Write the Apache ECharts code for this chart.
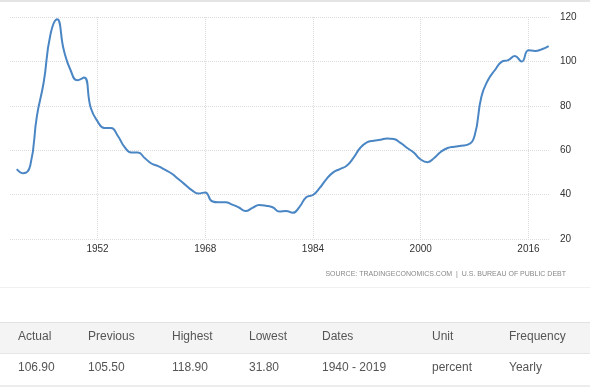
<!DOCTYPE html>
<html><head><meta charset="utf-8">
<script src="https://cdn.jsdelivr.net/npm/echarts@6/dist/echarts.min.js"></script>
<style>html,body{margin:0;padding:0;background:#fff}#c{width:590px;height:388px}</style>
</head><body><div id="c"></div>
<script>
const years = [1940,1941,1942,1943,1944,1945,1946,1947,1948,1949,1950,1951,1952,1953,1954,1955,1956,1957,1958,1959,1960,1961,1962,1963,1964,1965,1966,1967,1968,1969,1970,1971,1972,1973,1974,1975,1976,1977,1978,1979,1980,1981,1982,1983,1984,1985,1986,1987,1988,1989,1990,1991,1992,1993,1994,1995,1996,1997,1998,1999,2000,2001,2002,2003,2004,2005,2006,2007,2008,2009,2010,2011,2012,2013,2014,2015,2016,2017,2018,2019];
const debtToGdp = [51.5,49.6,53,75.5,90.5,112,119,105,96,91.5,92.7,79,73,70,70,66.5,61.5,59,59,56.5,54,52.8,51.2,49.5,47,44.5,42,40.5,41,37,36.5,36.5,35.5,34.2,32.6,34,35.3,35,34.3,32.4,32.6,31.8,34.5,38.8,39.8,43,47,50,51.5,53,56.5,61,63.5,64.3,64.7,65.3,65,63.3,61,58.8,55.8,54.6,56.5,59.3,61,61.6,62,62.5,66.5,84,91.6,96,99.8,100.6,102.4,99.9,105,104.7,105.5,106.9];
const xTicks = [1952,1968,1984,2000,2016];
const tableHeaders = ['Actual','Previous','Highest','Lowest','Dates','Unit','Frequency'];
const tableValues = ['106.90','105.50','118.90','31.80','1940 - 2019','percent','Yearly'];
const sourceText = 'SOURCE: TRADINGECONOMICS.COM  |  U.S. BUREAU OF PUBLIC DEBT';

const colX = [18,88,172,249,322,432,509];
const FF = 'Liberation Sans, Arial, sans-serif';
const graphics = [
  {type:'rect', shape:{x:0,y:0,width:590,height:2}, style:{fill:'#e4e4e4'}, silent:true},
  {type:'rect', shape:{x:0,y:287,width:590,height:1}, style:{fill:'#f0f0f0'}, silent:true},
  {type:'rect', shape:{x:0,y:322,width:590,height:32}, style:{fill:'#f4f4f4'}, silent:true},
  {type:'rect', shape:{x:0,y:322,width:590,height:1}, style:{fill:'#e2e2e2'}, silent:true},
  {type:'rect', shape:{x:0,y:353,width:590,height:1}, style:{fill:'#e6e6e6'}, silent:true},
  {type:'rect', shape:{x:0,y:385,width:590,height:2}, style:{fill:'#ececec'}, silent:true},
  {type:'text', right:24, top:271, style:{text:sourceText, fontSize:7, fill:'#888', fontFamily:FF}}
];
tableHeaders.forEach((t,i)=>graphics.push({type:'text', left:colX[i], top:331, style:{text:t, fontSize:12, fill:'#555', fontFamily:FF}}));
tableValues.forEach((t,i)=>graphics.push({type:'text', left:colX[i], top:362, style:{text:t, fontSize:12, fill:'#555', fontFamily:FF}}));

const chart = echarts.init(document.getElementById('c'), null, {renderer:'canvas'});
chart.setOption({
  animation:false,
  grid:{left:10, right:40, top:17, bottom:149, containLabel:false},
  xAxis:{type:'value', min:1939, max:2019.2,
    axisLine:{show:false}, axisTick:{show:false, customValues:xTicks},
    axisLabel:{customValues:xTicks, formatter:v=>String(v), fontSize:10, color:'#333', margin:5, fontFamily:FF},
    splitLine:{show:true, lineStyle:{color:'#dcdcdc', type:[1,1], width:1}}},
  yAxis:{type:'value', position:'right', min:20, max:120, interval:20,
    axisLine:{show:false}, axisTick:{show:false},
    axisLabel:{fontSize:10, color:'#333', margin:10, fontFamily:FF},
    splitLine:{show:true, lineStyle:{color:'#dcdcdc', type:[1,1], width:1}}},
  series:[{type:'line', data:years.map((y,i)=>[y,debtToGdp[i]]), smooth:0.5, showSymbol:false,
    lineStyle:{color:'#4a86c4', width:2}}],
  graphic:graphics
});
</script></body></html>
